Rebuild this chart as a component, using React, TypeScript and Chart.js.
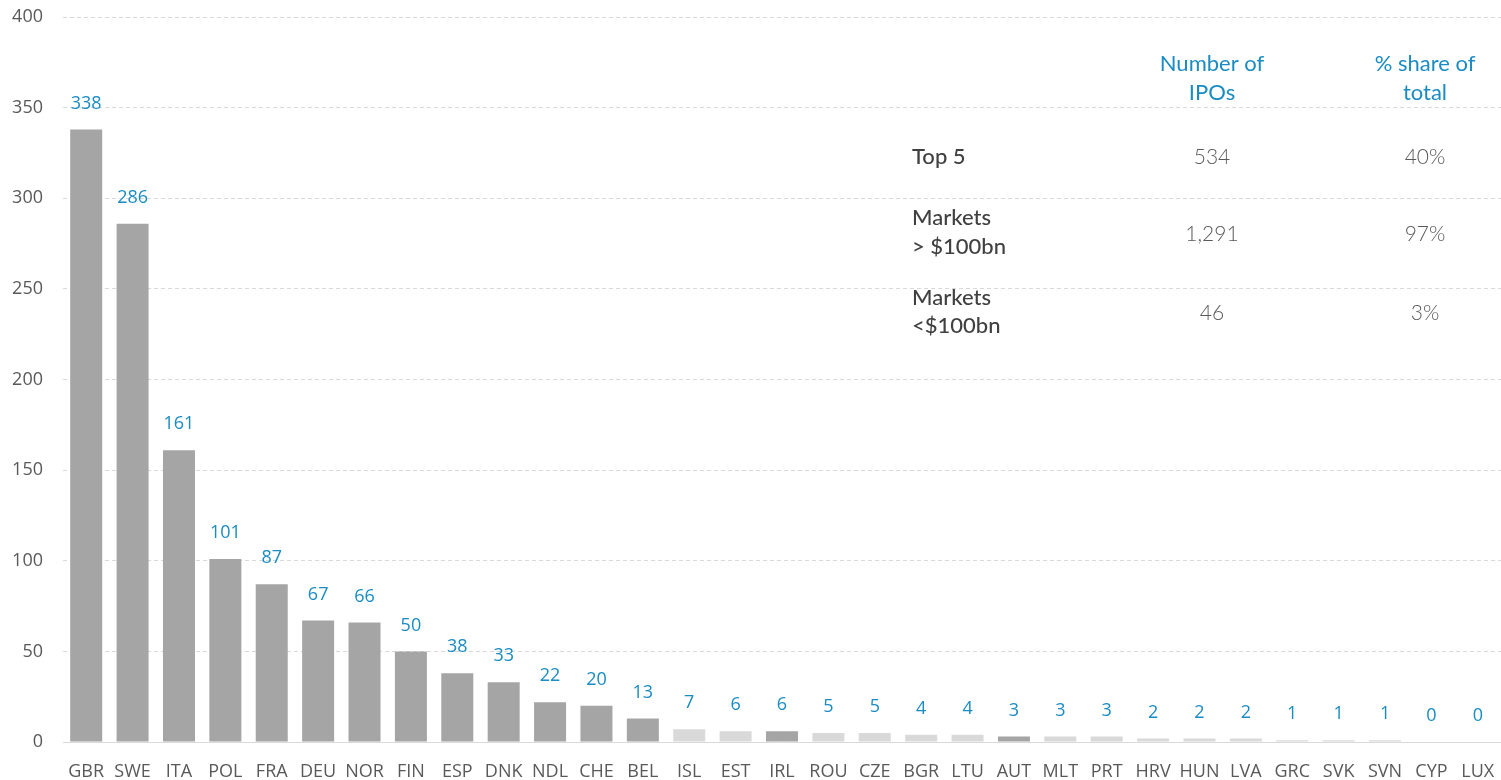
import React, { useEffect, useRef } from "react";
import { Chart, registerables } from "chart.js";

Chart.register(...registerables);

const countries = ["GBR","SWE","ITA","POL","FRA","DEU","NOR","FIN","ESP","DNK","NDL","CHE","BEL","ISL","EST","IRL","ROU","CZE","BGR","LTU","AUT","MLT","PRT","HRV","HUN","LVA","GRC","SVK","SVN","CYP","LUX"];
const ipos = [338,286,161,101,87,67,66,50,38,33,22,20,13,7,6,6,5,5,4,4,3,3,3,2,2,2,1,1,1,0,0];
const largeMarket = [true,true,true,true,true,true,true,true,true,true,true,true,true,false,false,true,false,false,false,false,true,false,false,false,false,false,false,false,false,false,false];
const yTicks = [0,50,100,150,200,250,300,350,400];

const tableHeaders = [["Number of","IPOs"],["% share of","total"]];
const tableRows = [["Top 5"],["Markets","> $100bn"],["Markets","<$100bn"]];
const tableCounts = ["534","1,291","46"];
const tableShares = ["40%","97%","3%"];

const DARK = "#a5a5a5";
const LIGHT = "#d9d9d9";
const BLUE = "#1a8cc3";

const overlayPlugin = {
  id: "overlay",
  afterDatasetsDraw(chart: any) {
    const ctx = chart.ctx;
    const meta = chart.getDatasetMeta(0);
    ctx.save();
    ctx.font = "18px 'Open Sans'";
    ctx.fillStyle = BLUE;
    ctx.textAlign = "center";
    ctx.textBaseline = "middle";
    meta.data.forEach((bar: any, i: number) => {
      ctx.fillText(String(ipos[i]), bar.x, bar.y - 26);
    });
    // table
    const colX = [1212, 1425];
    ctx.font = "22px Lato";
    ctx.fillStyle = BLUE;
    tableHeaders.forEach((lines, c) => {
      lines.forEach((t, k) => ctx.fillText(t, colX[c], 64 + k * 29));
    });
    const rowY = [157, 234, 313];
    const labelY = [[157], [218, 247], [298, 326]];
    ctx.textAlign = "left";
    ctx.fillStyle = "#404040";
    ctx.font = "500 22px Lato";
    tableRows.forEach((lines, r) => {
      lines.forEach((t, k) => ctx.fillText(t, 912, labelY[r][k]));
    });
    ctx.textAlign = "center";
    ctx.fillStyle = "#595959";
    ctx.font = "300 21px Lato";
    tableCounts.forEach((t, r) => ctx.fillText(t, colX[0], rowY[r]));
    tableShares.forEach((t, r) => ctx.fillText(t, colX[1], rowY[r]));
    ctx.restore();
  },
};

export default function App() {
  const ref = useRef<HTMLCanvasElement>(null);
  useEffect(() => {
    document.body.style.margin = "0";
    const chart = new Chart(ref.current!, {
      type: "bar",
      data: {
        labels: countries,
        datasets: [
          {
            data: ipos,
            backgroundColor: largeMarket.map((b) => (b ? DARK : LIGHT)),
            barPercentage: 0.69,
            categoryPercentage: 1,
          },
        ],
      },
      options: {
        responsive: false,
        animation: false,
        layout: { padding: { top: 17, right: 0, left: 0, bottom: 0 } },
        plugins: { legend: { display: false }, tooltip: { enabled: false } },
        scales: {
          x: {
            grid: { display: false, drawTicks: false },
            border: { display: true, color: "#d9d9d9", width: 1 },
            ticks: { color: "#595959", font: { family: "'Open Sans'", size: 18 }, padding: 19, maxRotation: 0, autoSkip: false },
            afterFit: (s: any) => { s.height = 38; s.paddingLeft = 0; s.paddingRight = 0; },
          },
          y: {
            min: 0,
            max: 400,
            afterBuildTicks: (s: any) => { s.ticks = yTicks.map((v) => ({ value: v })); },
            grid: { color: "#d9d9d9", drawTicks: false, lineWidth: 1 },
            border: { display: false, dash: [4, 3] },
            ticks: { color: "#595959", font: { family: "'Open Sans'", size: 18 }, padding: 20 },
            afterFit: (s: any) => { s.width = 63; s.paddingTop = 0; s.paddingBottom = 0; },
          },
        },
      },
      plugins: [overlayPlugin],
    });
    return () => chart.destroy();
  }, []);
  return <canvas ref={ref} width={1501} height={780} style={{ display: "block" }} />;
}
